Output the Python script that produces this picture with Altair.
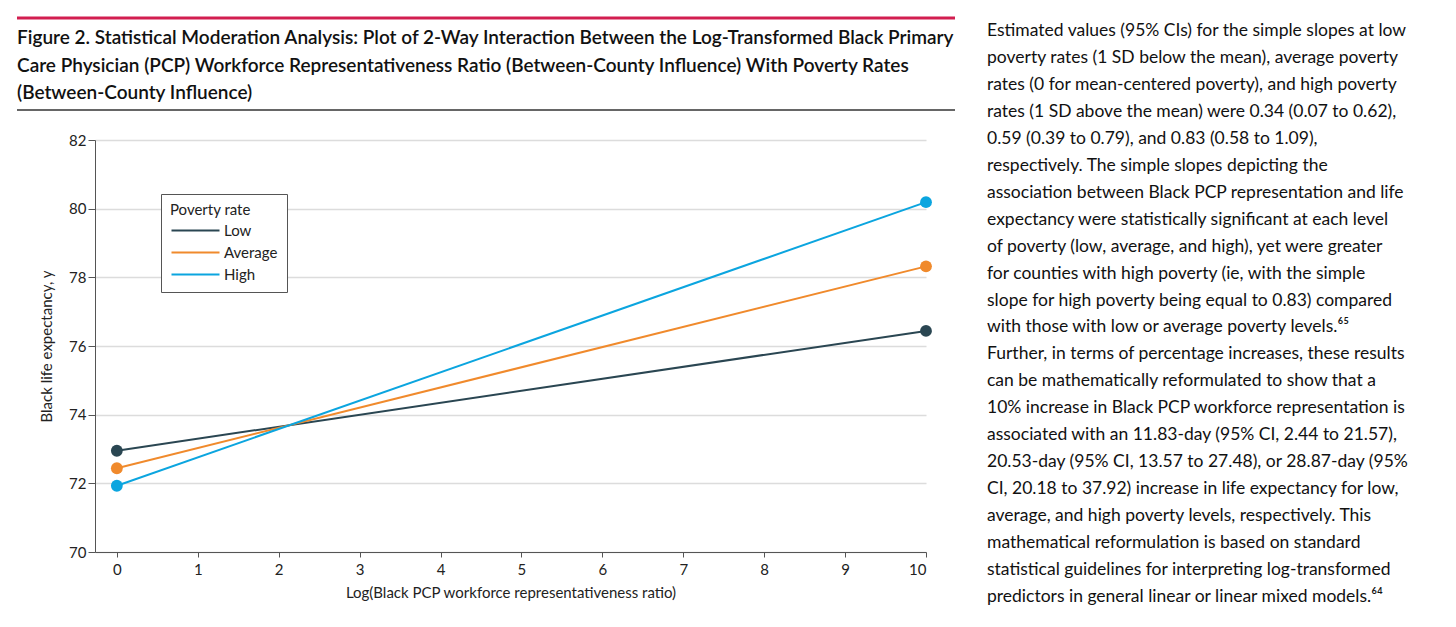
import altair as alt
import pandas as pd

# ---- data ----
x_values = [0, 10]
low_values = [72.95, 76.44]
average_values = [72.44, 78.32]
high_values = [71.93, 80.19]
levels = ["Low", "Average", "High"]
level_colors = ["#2a4652", "#f08a2c", "#0ba5df"]
x_ticks = [0, 1, 2, 3, 4, 5, 6, 7, 8, 9, 10]
y_ticks = [70, 72, 74, 76, 78, 80, 82]

title_lines = [
    "Figure 2. Statistical Moderation Analysis: Plot of 2-Way Interaction Between the Log-Transformed Black Primary",
    "Care Physician (PCP) Workforce Representativeness Ratio (Between-County Influence) With Poverty Rates",
    "(Between-County Influence)",
]
body_lines = [
    "Estimated values (95% CIs) for the simple slopes at low",
    "poverty rates (1 SD below the mean), average poverty",
    "rates (0 for mean-centered poverty), and high poverty",
    "rates (1 SD above the mean) were 0.34 (0.07 to 0.62),",
    "0.59 (0.39 to 0.79), and 0.83 (0.58 to 1.09),",
    "respectively. The simple slopes depicting the",
    "association between Black PCP representation and life",
    "expectancy were statistically significant at each level",
    "of poverty (low, average, and high), yet were greater",
    "for counties with high poverty (ie, with the simple",
    "slope for high poverty being equal to 0.83) compared",
    "with those with low or average poverty levels.\u2076\u2075",
    "Further, in terms of percentage increases, these results",
    "can be mathematically reformulated to show that a",
    "10% increase in Black PCP workforce representation is",
    "associated with an 11.83-day (95% CI, 2.44 to 21.57),",
    "20.53-day (95% CI, 13.57 to 27.48), or 28.87-day (95%",
    "CI, 20.18 to 37.92) increase in life expectancy for low,",
    "average, and high poverty levels, respectively. This",
    "mathematical reformulation is based on standard",
    "statistical guidelines for interpreting log-transformed",
    "predictors in general linear or linear mixed models.\u2076\u2074",
]
x_title = "Log(Black PCP workforce representativeness ratio)"
y_title = "Black life expectancy, y"
legend_title = "Poverty rate"

rows = []
for lvl, vals in zip(levels, [low_values, average_values, high_values]):
    for xv, yv in zip(x_values, vals):
        rows.append({"x": xv, "y": yv, "level": lvl})
df = pd.DataFrame(rows)

FONT = "Lato"
W, H = 831, 412
PL, PT = 87, 132
PR = 1440 - PL - W
PB = 611 - PT - H

color_scale = alt.Scale(domain=levels, range=level_colors)
x_enc = alt.X(
    "x:Q",
    scale=alt.Scale(domain=[-0.27, 10], nice=False, zero=False),
    axis=alt.Axis(
        values=x_ticks, title=x_title, grid=False, format="d",
        tickSize=5, labelPadding=5, titlePadding=8,
    ),
)
y_enc = alt.Y(
    "y:Q",
    scale=alt.Scale(domain=[70, 82], nice=False, zero=False),
    axis=alt.Axis(
        values=y_ticks, title=y_title, grid=True, format="d",
        tickSize=7, labelPadding=2, titlePadding=14,
    ),
)

base = alt.Chart(df)
lines = base.mark_line(strokeWidth=2).encode(
    x=x_enc,
    y=y_enc,
    color=alt.Color(
        "level:N", scale=color_scale, sort=levels,
        legend=alt.Legend(
            title=legend_title, orient="none", legendX=66, legendY=54,
            strokeColor="#555555", fillColor="white", padding=9,
            symbolType="M-1,0H7", symbolSize=144, symbolStrokeWidth=2,
            labelOffset=39, rowPadding=6, titlePadding=5,
        ),
    ),
)
points = base.mark_circle(size=140, opacity=1).encode(
    x="x:Q",
    y="y:Q",
    color=alt.Color("level:N", scale=color_scale, sort=levels, legend=None),
)

one = pd.DataFrame({"k": [0]})
red_rule = alt.Chart(one).mark_rule(color="#d21e50", strokeWidth=3).encode(
    x=alt.value(-78), x2=alt.value(860), y=alt.value(-122)
)
black_rule = alt.Chart(one).mark_rule(color="#333333", strokeWidth=1.5).encode(
    x=alt.value(-78), x2=alt.value(860), y=alt.value(-30)
)
title_text = alt.Chart(one).mark_text(
    align="left", baseline="alphabetic", font=FONT, fontSize=19,
    fontWeight=600, lineHeight=27.5, color="#111111",
).encode(x=alt.value(-78), y=alt.value(-96), text=alt.value(title_lines))
body_text = alt.Chart(one).mark_text(
    align="left", baseline="alphabetic", font=FONT, fontSize=17.5,
    lineHeight=26.95, color="#111111",
).encode(x=alt.value(892), y=alt.value(-104), text=alt.value(body_lines))

chart = alt.layer(lines, points, red_rule, black_rule, title_text, body_text).properties(
    width=W, height=H,
    background="white",
    autosize=alt.AutoSizeParams(type="none"),
    padding={"left": PL, "top": PT, "right": PR, "bottom": PB},
).configure_view(stroke=None).configure_axis(
    labelFont=FONT, titleFont=FONT, labelFontSize=15, titleFontSize=15,
    titleFontWeight="normal", labelColor="#222222", titleColor="#222222",
    domainColor="#555555", tickColor="#555555", gridColor="#dcdcdc", gridWidth=1.5,
).configure_legend(
    titleFont=FONT, labelFont=FONT, titleFontSize=15, labelFontSize=15,
    titleFontWeight="normal", titleColor="#222222", labelColor="#222222",
)

chart.save("out.html", embed_options={"renderer": "svg", "actions": False})
